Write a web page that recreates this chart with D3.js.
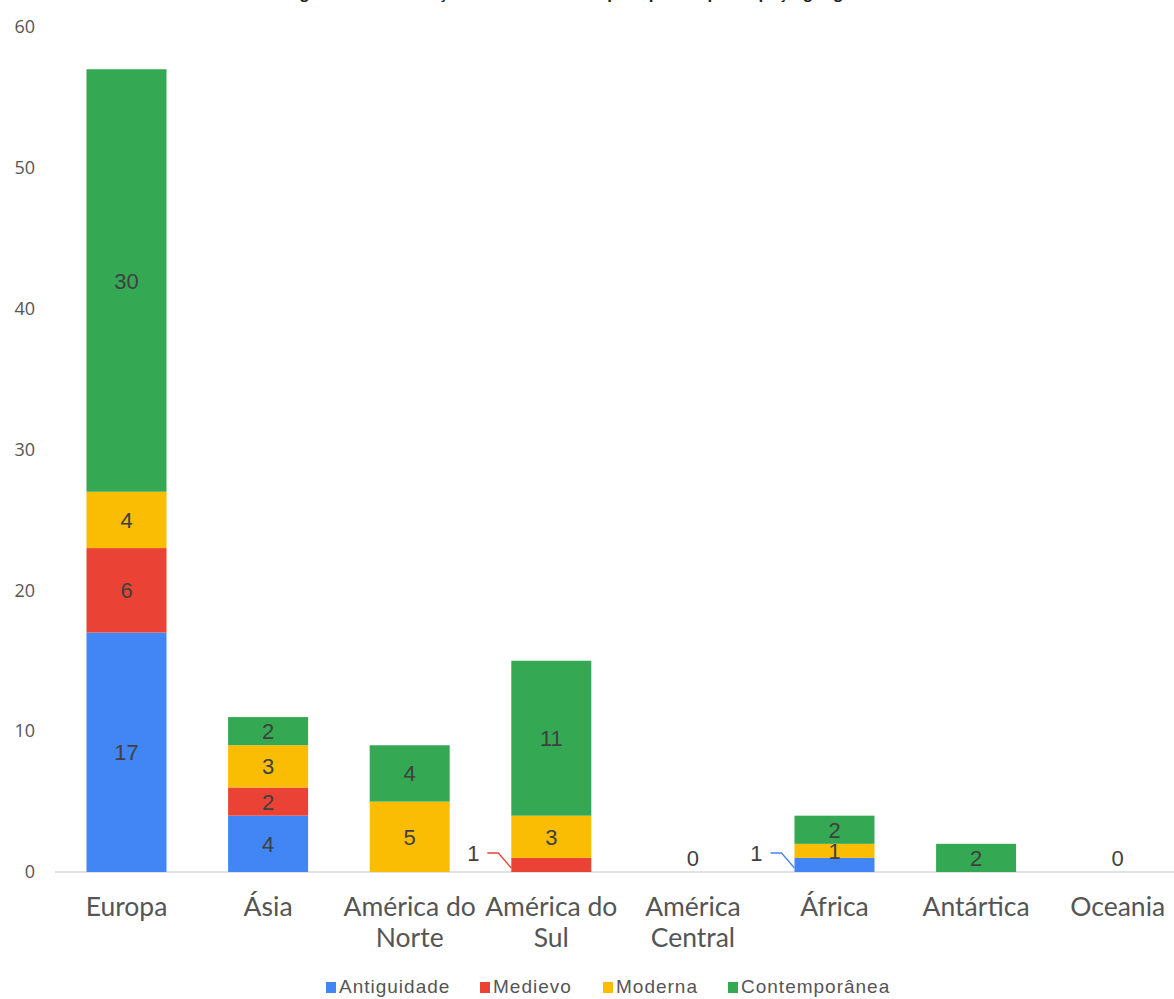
<!DOCTYPE html>
<html><head><meta charset="utf-8">
<script src="https://cdn.jsdelivr.net/npm/d3@7"></script>
<style>body{margin:0;background:#fff}svg{display:block}</style>
</head><body>
<svg id="c" width="1174" height="999"></svg>
<script>
const categories = [["Europa"],["Ásia"],["América do","Norte"],["América do","Sul"],["América","Central"],["África"],["Antártica"],["Oceania"]];
const seriesNames = ["Antiguidade","Medievo","Moderna","Contemporânea"];
const antiguidade = [17,4,0,0,0,1,0,0];
const medievo = [6,2,0,1,0,0,0,0];
const moderna = [4,3,5,3,0,1,0,0];
const contemporanea = [30,2,4,11,0,2,2,0];
const yTicks = [0,10,20,30,40,50,60];
const colors = ["#4285F4","#EA4335","#FBBC04","#34A853"];
const titleText = "Figura 1 – Distribuição das ocorrências por época e por espaço geográfico";

const svg = d3.select("#c");
const series = [antiguidade, medievo, moderna, contemporanea];
const keys = categories.map(c => c.join(" "));
const rows = keys.map((k,i)=>{const r={cat:k}; seriesNames.forEach((s,j)=>r[s]=series[j][i]); return r;});
const stacked = d3.stack().keys(seriesNames)(rows);

const x = d3.scaleBand().domain(keys).range([55.7, 1188.5]).paddingInner(0.435).paddingOuter(0.2175);
const y = d3.scaleLinear().domain([0,60]).range([872,27]);

// title (cropped at top, as in the reference)
svg.append("text").attr("x",587).attr("y",-1).attr("text-anchor","middle")
  .attr("font-family","Arial, Liberation Sans, sans-serif").attr("font-weight","bold").attr("font-size",17)
  .attr("fill","#222").text(titleText);

// baseline
svg.append("line").attr("x1",55).attr("x2",1174).attr("y1",y(0)).attr("y2",y(0))
  .attr("stroke","#d9d9d9").attr("stroke-width",1.5);

// y axis labels
const yAxis = d3.axisLeft(y).tickValues(yTicks).tickSize(0).tickPadding(0);
const ya = svg.append("g").attr("transform","translate(35,0)").call(yAxis);
ya.select(".domain").remove();
ya.selectAll("text").attr("font-family","Open Sans, sans-serif").attr("font-size",18).attr("fill","#555");

// bars
const g = svg.append("g");
stacked.forEach((s,j)=>{
  g.selectAll(null).data(s.filter(d=>d[1]-d[0]>0)).enter().append("rect")
    .attr("x",d=>x(d.data.cat)).attr("width",x.bandwidth())
    .attr("y",d=>y(d[1])).attr("height",d=>y(d[0])-y(d[1]))
    .attr("fill",colors[j]);
});

// labels
const lf = "Arial, Liberation Sans, sans-serif";
const lfs = 22;
stacked.forEach((s,j)=>{
  s.forEach((d,i)=>{
    const v = d[1]-d[0];
    if(v<=0) return;
    const cx = x(d.data.cat)+x.bandwidth()/2;
    const h = y(d[0])-y(d[1]);
    if(h < 16 && d[0]===0){
      const ly = y(0)-19;
      const lx = x(d.data.cat)-38;
      svg.append("text").attr("x",lx).attr("y",ly+8).attr("text-anchor","middle")
        .attr("font-family",lf).attr("font-size",lfs).attr("fill","#404040").text(v);
      svg.append("path").attr("d",`M${lx+14},${ly} L${lx+25},${ly} L${x(d.data.cat)},${(y(d[0])+y(d[1]))/2+3}`)
        .attr("fill","none").attr("stroke",colors[j]).attr("stroke-width",1.3);
      return;
    }
    svg.append("text").attr("x",cx).attr("y",(y(d[0])+y(d[1]))/2+8).attr("text-anchor","middle")
      .attr("font-family",lf).attr("font-size",lfs).attr("fill","#404040").text(v);
  });
});
// zero totals
keys.forEach((k,i)=>{
  const tot = series.reduce((a,s)=>a+s[i],0);
  if(tot===0){
    svg.append("text").attr("x",x(k)+x.bandwidth()/2).attr("y",y(0)-6).attr("text-anchor","middle")
      .attr("font-family",lf).attr("font-size",lfs).attr("fill","#404040").text(0);
  }
});

// x labels
keys.forEach((k,i)=>{
  const t = svg.append("text").attr("x",x(k)+x.bandwidth()/2).attr("y",916).attr("text-anchor","middle")
    .attr("font-family","Lato, sans-serif").attr("font-size",26.5).attr("fill","#555");
  categories[i].forEach((line,li)=>{
    t.append("tspan").attr("x",x(k)+x.bandwidth()/2).attr("dy",li===0?0:31).text(line);
  });
});

// legend
const legendX = [326,480,603,728];
seriesNames.forEach((n,j)=>{
  svg.append("rect").attr("x",legendX[j]).attr("y",982).attr("width",10).attr("height",11).attr("fill",colors[j]);
  svg.append("text").attr("x",legendX[j]+13).attr("y",993).attr("font-family","Liberation Sans Narrow, Arial, sans-serif")
    .attr("font-size",19).attr("letter-spacing",1).attr("fill","#555").text(n);
});
</script>
</body></html>
